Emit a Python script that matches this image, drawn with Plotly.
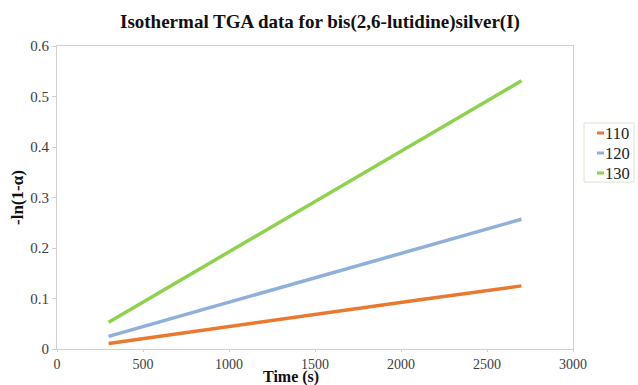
import plotly.graph_objects as go

time_s = [300, 900, 1500, 2100, 2700]
series_names = ["110", "120", "130"]
v110 = [0.011, 0.040, 0.068, 0.097, 0.125]
v120 = [0.025, 0.083, 0.141, 0.199, 0.257]
v130 = [0.053, 0.172, 0.292, 0.411, 0.531]
colors = ["#E8792E", "#8EB0DA", "#8ED14C"]
x_ticks = [0, 500, 1000, 1500, 2000, 2500, 3000]
y_ticks = [0, 0.1, 0.2, 0.3, 0.4, 0.5, 0.6]

SERIF = "Liberation Serif"

fig = go.Figure()
for name, vals, col in zip(series_names, [v110, v120, v130], colors):
    fig.add_trace(go.Scatter(x=time_s, y=vals, mode="lines", name=name,
                             line=dict(color=col, width=3.5), showlegend=False))

L, R, T, B = 57, 65, 46, 36
W, H = 638, 385
pw, ph = W - L - R, H - T - B

def px_x(p):
    return (p - L) / pw

def px_y(p):
    return (H - B - p) / ph

axis_common = dict(showgrid=False, zeroline=False, showline=True, linecolor="#D0D0D0",
                   linewidth=1, mirror=True, ticks="outside", tickcolor="#D0D0D0")

fig.update_xaxes(range=[0, 3000], tickvals=x_ticks, ticktext=[str(v) for v in x_ticks],
                 ticklen=2, tickfont=dict(family=SERIF, size=14, color="#404040"), **axis_common)
fig.update_yaxes(range=[0, 0.6], tickvals=y_ticks,
                 ticktext=["0", "0.1", "0.2", "0.3", "0.4", "0.5", "0.6"],
                 ticklen=4, tickfont=dict(family=SERIF, size=15, color="#404040"), **axis_common)

annotations = [
    dict(text="<b>Isothermal TGA data for bis(2,6-lutidine)silver(I)</b>", xref="paper", yref="paper",
         x=px_x(320), y=px_y(22), showarrow=False, xanchor="center", yanchor="middle",
         font=dict(family=SERIF, size=19, color="#111111")),
    dict(text="<b>Time (s)</b>", xref="paper", yref="paper", x=px_x(291), y=px_y(376.5),
         showarrow=False, xanchor="center", yanchor="middle",
         font=dict(family=SERIF, size=16, color="#111111")),
    dict(text="<b>-ln(1-α)</b>", xref="paper", yref="paper", x=px_x(17), y=px_y(198),
         showarrow=False, xanchor="center", yanchor="middle", textangle=-90,
         font=dict(family=SERIF, size=17, color="#111111")),
]

shapes = [
    dict(type="rect", xref="paper", yref="paper", x0=px_x(584), x1=px_x(634),
         y0=px_y(182), y1=px_y(123), line=dict(color="#D8E4CC", width=1), fillcolor="white"),
]
ys = [133, 153, 173]
for name, col, yy in zip(series_names, colors, ys):
    shapes.append(dict(type="line", xref="paper", yref="paper", x0=px_x(597), x1=px_x(604),
                       y0=px_y(yy), y1=px_y(yy), line=dict(color=col, width=3)))
    annotations.append(dict(text=name, xref="paper", yref="paper", x=px_x(603), y=px_y(yy),
                            showarrow=False, xanchor="left", yanchor="middle",
                            font=dict(family=SERIF, size=16.5, color="#222222")))

fig.update_layout(width=W, height=H, margin=dict(l=L, r=R, t=T, b=B),
                  font=dict(family=SERIF, size=15, color="#404040"),
                  paper_bgcolor="white", plot_bgcolor="white",
                  annotations=annotations, shapes=shapes)

fig.write_html("out.html", config={"displayModeBar": False},
               post_script="document.body.style.margin='0';document.body.style.overflow='hidden';")
